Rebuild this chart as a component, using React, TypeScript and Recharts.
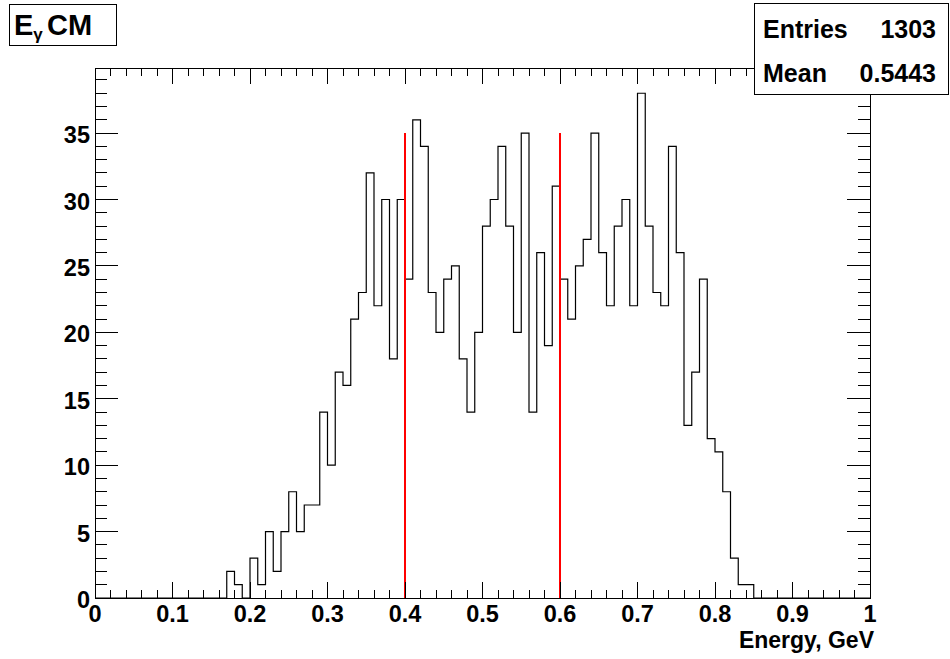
import { ComposedChart, Line, ReferenceArea, ReferenceLine, XAxis, YAxis } from "recharts";

// histogram: E_gamma in CM frame, 100 bins on [0, 1], only non-empty range listed
const binStart = 0.17;
const binWidth = 0.01;
const counts = [
  2, 1, 0, 3, 1, 5, 2, 5, 8, 5, 7, 7, 14, 10, 17, 16, 21, 23, 32, 22, 30, 18, 30, 24, 36, 34, 23,
  20, 24, 25, 18, 14, 20, 28, 30, 34, 28, 20, 35, 14, 26, 19, 31, 24, 21, 25, 27, 35, 26, 22, 28,
  30, 22, 38, 28, 23, 22, 34, 26, 13, 17, 24, 12, 11, 8, 3, 1, 1,
];

const cutLines = [0.4, 0.6];
const cutHeight = 35;

const xMajor = [0, 0.1, 0.2, 0.3, 0.4, 0.5, 0.6, 0.7, 0.8, 0.9, 1];
const xTickLabels = ["0", "0.1", "0.2", "0.3", "0.4", "0.5", "0.6", "0.7", "0.8", "0.9", "1"];
const yMajor = [0, 5, 10, 15, 20, 25, 30, 35];
const yTickLabels = ["0", "5", "10", "15", "20", "25", "30", "35"];
const yMax = 39.9;

const title = "CM";
const xTitle = "Energy, GeV";
const entries = "1303";
const mean = "0.5443";

const FONT = "'Liberation Sans', Arial, Helvetica, sans-serif";

const round = (v: number) => Math.round(v * 1000) / 1000;

const data = [
  { x: 0, y: 0 },
  ...counts.map((c, i) => ({ x: round(binStart + i * binWidth), y: c })),
  { x: round(binStart + counts.length * binWidth), y: 0 },
  { x: 1, y: 0 },
];

// minor ticks: 5 divisions per major step
const xTicks: number[] = [];
xMajor.forEach((v, i) => {
  if (i === xMajor.length - 1) return xTicks.push(v);
  for (let k = 0; k < 5; k++) xTicks.push(round(v + (k * (xMajor[i + 1] - v)) / 5));
});
const yTicks: number[] = [];
for (let v = 0; v <= 39; v++) yTicks.push(v);

const isXMajor = (v: number) => xMajor.some((m) => Math.abs(m - v) < 1e-6);
const isYMajor = (v: number) => yMajor.includes(v);

const tickText = { fontFamily: FONT, fontWeight: 700, fontSize: 23.5, fill: "#000" };
const boxText = { fontFamily: FONT, fontWeight: 700, fontSize: 25, fill: "#000" };

function BottomTick({ x, y, payload }: any) {
  const major = isXMajor(payload.value);
  const idx = xMajor.findIndex((m) => Math.abs(m - payload.value) < 1e-6);
  return (
    <g>
      <line x1={x} x2={x} y1={y} y2={y - (major ? 16 : 8)} stroke="#000" shapeRendering="crispEdges" />
      {major && (
        <text x={x} y={y + 24} textAnchor="middle" {...tickText}>
          {xTickLabels[idx]}
        </text>
      )}
    </g>
  );
}

function TopTick({ x, y, payload }: any) {
  const major = isXMajor(payload.value);
  return <line x1={x} x2={x} y1={y} y2={y + (major ? 16 : 8)} stroke="#000" shapeRendering="crispEdges" />;
}

function LeftTick({ x, y, payload }: any) {
  const major = isYMajor(payload.value);
  const idx = yMajor.indexOf(payload.value);
  return (
    <g>
      <line x1={x} x2={x + (major ? 23 : 12)} y1={y} y2={y} stroke="#000" shapeRendering="crispEdges" />
      {major && (
        <text x={x - 5} y={y + 10} textAnchor="end" {...tickText}>
          {yTickLabels[idx]}
        </text>
      )}
    </g>
  );
}

function RightTick({ x, y, payload }: any) {
  const major = isYMajor(payload.value);
  return <line x1={x} x2={x - (major ? 23 : 12)} y1={y} y2={y} stroke="#000" shapeRendering="crispEdges" />;
}

export default function App() {
  return (
    <div style={{ position: "absolute", left: 0, top: 0, width: 950, height: 659, background: "#fff" }}>
      <ComposedChart width={950} height={659} data={data} margin={{ top: 67, right: 79, bottom: 0, left: 0 }}>
        <XAxis
          xAxisId="b"
          dataKey="x"
          type="number"
          domain={[0, 1]}
          ticks={xTicks}
          interval={0}
          height={61}
          tickSize={0}
          tickMargin={0}
          tickLine={false}
          axisLine={false}
          tick={BottomTick}
          allowDataOverflow
          label={{
            content: ({ viewBox }: any) => (
              <text
                x={viewBox.x + viewBox.width + 4}
                y={viewBox.y + 50}
                textAnchor="end"
                fontFamily={FONT}
                fontWeight={700}
                fontSize={23}
                fill="#000"
              >
                {xTitle}
              </text>
            ),
          }}
        />
        <XAxis
          xAxisId="t"
          orientation="top"
          dataKey="x"
          type="number"
          domain={[0, 1]}
          ticks={xTicks}
          interval={0}
          height={1}
          tickSize={0}
          tickMargin={0}
          tickLine={false}
          axisLine={false}
          tick={TopTick}
          allowDataOverflow
        />
        <YAxis
          yAxisId="l"
          type="number"
          domain={[0, yMax]}
          ticks={yTicks}
          interval={0}
          width={95}
          tickSize={0}
          tickMargin={0}
          tickLine={false}
          axisLine={false}
          tick={LeftTick}
          allowDataOverflow
        />
        <YAxis
          yAxisId="r"
          orientation="right"
          type="number"
          domain={[0, yMax]}
          ticks={yTicks}
          interval={0}
          width={1}
          tickSize={0}
          tickMargin={0}
          tickLine={false}
          axisLine={false}
          tick={RightTick}
          allowDataOverflow
        />
        <ReferenceArea
          xAxisId="b"
          yAxisId="l"
          x1={0}
          x2={1}
          y1={0}
          y2={yMax}
          fill="none"
          fillOpacity={0}
          stroke="#000"
          strokeWidth={1}
          strokeOpacity={1}
          shapeRendering="crispEdges"
        />
        <Line
          xAxisId="b"
          yAxisId="l"
          dataKey="y"
          type="stepAfter"
          stroke="#000"
          strokeWidth={1.2}
          dot={false}
          activeDot={false}
          isAnimationActive={false}
        />
        {cutLines.map((c) => (
          <ReferenceLine
            key={c}
            xAxisId="b"
            yAxisId="l"
            segment={[
              { x: c, y: 0 },
              { x: c, y: cutHeight },
            ]}
            stroke="#ff0000"
            strokeWidth={2}
          />
        ))}
      </ComposedChart>

      <svg
        width={950}
        height={659}
        style={{ position: "absolute", left: 0, top: 0, pointerEvents: "none" }}
      >
        <rect x={9.5} y={4.5} width={107} height={41} fill="#fff" stroke="#000" />
        <text x={14} y={35} fontFamily={FONT} fontWeight={700} fontSize={29} fill="#000">
          E
          <tspan fontSize={17} dy={5}>
            γ
          </tspan>
        </text>
        <text x={47} y={35} fontFamily={FONT} fontWeight={700} fontSize={29} fill="#000">
          {title}
        </text>

        <rect x={754.5} y={3.5} width={194} height={91} fill="#fff" stroke="#000" />
        <text x={763} y={38} {...boxText}>
          Entries
        </text>
        <text x={936} y={38} textAnchor="end" {...boxText}>
          {entries}
        </text>
        <text x={763} y={82} {...boxText}>
          Mean
        </text>
        <text x={936} y={82} textAnchor="end" {...boxText}>
          {mean}
        </text>
      </svg>
    </div>
  );
}
